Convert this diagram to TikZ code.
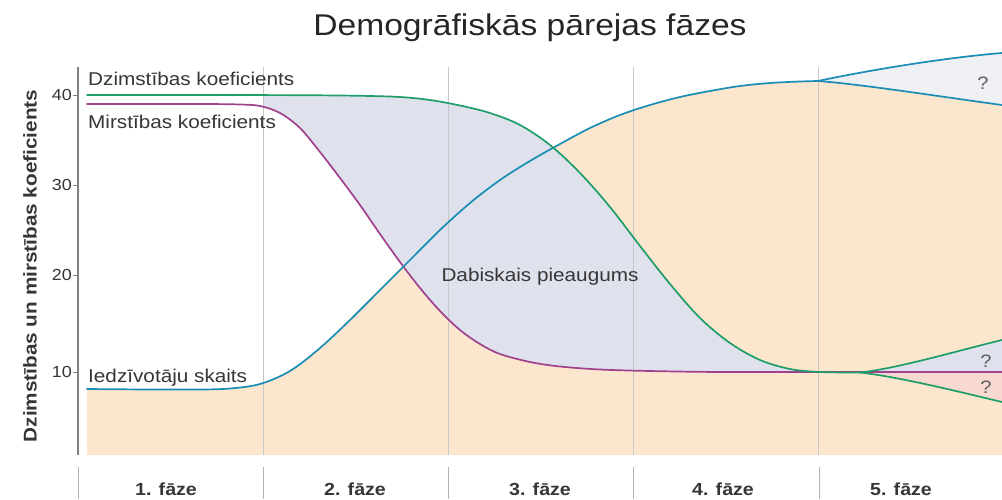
\documentclass[tikz,border=0pt]{standalone}
\usepackage{fontspec}
\setmainfont[FakeStretch=1.12]{Liberation Sans}
\definecolor{peach}{HTML}{FCE6CE}
\definecolor{lav}{HTML}{DFE2ED}
\definecolor{topgray}{HTML}{EEF0F3}
\definecolor{pinkf}{HTML}{F8D9CF}
\definecolor{gline}{HTML}{1F9E68}
\definecolor{tline}{HTML}{1A8DB5}
\definecolor{pline}{HTML}{A0418D}
\definecolor{txt}{HTML}{363636}
\definecolor{gridc}{HTML}{C8C8C8}
\definecolor{axisc}{HTML}{808080}
\tikzset{
  curve/.style={line width=1.7pt, line join=round, line cap=round},
  gridline/.style={draw=gridc, line width=0.8pt},
  lbl/.style={inner sep=0pt, text=txt, font=\fontsize{18.5}{20}\selectfont},
  ticklbl/.style={inner sep=0pt, text=txt, anchor=east, font=\fontsize{16}{18}\selectfont},
  phaselbl/.style={inner sep=0pt, text=txt, anchor=base, font=\bfseries\fontsize{17.5}{19}\selectfont},
  qlbl/.style={inner sep=0pt, text=txt!80, font=\fontsize{18}{20}\selectfont},
}
\def\birth{(87,95) (200,95) (300,95.2) (360,95.8) (400,97) (430,100) (460,105.5) (490,113) (520,125) (550,145) (580,173) (610,207) (640,246) (670,284) (700,318) (730,343) (760,360) (790,369) (820,372) (860,372.5)}
\def\death{(87,104) (200,104) (240,104.5) (260,106) (280,113) (300,128) (320,152) (340,178) (360,205) (380,234) (400,262) (420,288) (440,311) (460,330) (480,344) (500,354) (530,362) (560,366.5) (600,369.5) (650,371) (720,372) (818,372)}
\def\deathrev{(818,372) (720,372) (650,371) (600,369.5) (560,366.5) (530,362) (500,354) (480,344) (460,330) (440,311) (420,288) (400,262) (380,234) (360,205) (340,178) (320,152) (300,128) (280,113) (260,106) (240,104.5) (200,104) (87,104)}
\def\pop{(87,389) (150,389.5) (200,389.5) (230,388.5) (260,384) (290,371) (320,348) (350,320) (380,290) (410,260) (440,230) (470,203) (500,180) (530,161) (560,144) (590,128) (620,115) (650,105) (680,97) (710,91) (740,86) (770,83) (800,81.5) (818,81)}
\begin{document}
\begin{tikzpicture}[x=1pt,y=-1pt]
\useasboundingbox (0,0) rectangle (1002,499);
\fill[white] (0,0) rectangle (1002,499);
% peach under population
\fill[peach] (87,455) -- plot[smooth, tension=0.55] coordinates {\pop}
  .. controls (860,84) and (950,98) .. (1002,105) -- (1002,455) -- cycle;
% natural increase
\begin{scope}
\clip (263,0) rectangle (1002,499);
\fill[lav] plot[smooth, tension=0.55] coordinates {\birth}
  -- plot[smooth, tension=0.55] coordinates {\deathrev} -- cycle;
\end{scope}
\fill[lav] (860,372.5) .. controls (900,368) and (960,350) .. (1002,340) -- (1002,372) -- cycle;
\fill[pinkf] (860,372.5) .. controls (900,377) and (960,392) .. (1002,402) -- (1002,372) -- cycle;
\fill[topgray] (818,81) .. controls (860,72) and (940,58) .. (1002,53) -- (1002,105)
  .. controls (950,98) and (860,84) .. (818,81) -- cycle;
% grid lines
\foreach \gx/\nm in {263/ga,448/gb,633/gc,818/gd} {
  \coordinate (\nm t) at (\gx,67);
  \coordinate (\nm b) at (\gx,455);
  \draw[gridline] (\nm t) -- (\nm b);
}
% bottom separators
\foreach \sx/\nm in {78/sa,263/sb,448/sc,633/sd,819/se} {
  \coordinate (\nm t) at (\sx,467);
  \coordinate (\nm b) at (\sx,499);
  \draw[gridline, draw=gridc!90!black] (\nm t) -- (\nm b);
}
% axis
\coordinate (axt) at (78,67);
\coordinate (axb) at (78,455);
\draw[axisc, line width=1.5pt] (axt) -- (axb);
\foreach \ty/\tv in {95/40,185/30,275/20,372/10} {
  \coordinate (tk\tv) at (73,\ty);
  \coordinate (ta\tv) at (78,\ty);
  \draw[axisc, line width=1pt] (tk\tv) -- (ta\tv);
  \node[ticklbl] (tl\tv) at (72,\ty) {\tv};
}
% curves
\draw[curve, pline] plot[smooth, tension=0.55] coordinates {\death} -- (1002,372);
\draw[curve, tline] plot[smooth, tension=0.55] coordinates {\pop}
  .. controls (860,84) and (950,98) .. (1002,105);
\draw[curve, tline] (818,81) .. controls (860,72) and (940,58) .. (1002,53);
\draw[curve, gline] plot[smooth, tension=0.55] coordinates {\birth}
  .. controls (900,368) and (960,350) .. (1002,340);
\draw[curve, gline] (860,372.5) .. controls (900,377) and (960,392) .. (1002,402);
% labels
\node[inner sep=0pt, anchor=base, text=black!85, font=\fontsize{30}{32}\selectfont] (title) at (530,35) {Demogrāfiskās pārejas fāzes};
\node[lbl, anchor=base west] (lb) at (88,85) {Dzimstības koeficients};
\node[lbl, anchor=base west] (ld) at (88,128) {Mirstības koeficients};
\node[lbl, anchor=base west] (lp) at (88,382) {Iedzīvotāju skaits};
\node[lbl, anchor=base] (ln) at (540,281) {Dabiskais pieaugums};
\node[qlbl] (q1) at (983,83) {?};
\node[qlbl] (q2) at (986,361) {?};
\node[qlbl] (q3) at (986,387) {?};
\node[inner sep=0pt, text=txt, rotate=90, font=\bfseries\fontsize{18.5}{20}\selectfont] (ylab) at (30,266) {Dzimstības un mirstības koeficients};
\node[phaselbl] (p1) at (166,495) {1. fāze};
\node[phaselbl] (p2) at (355,495) {2. fāze};
\node[phaselbl] (p3) at (540,495) {3. fāze};
\node[phaselbl] (p4) at (723,495) {4. fāze};
\node[phaselbl] (p5) at (901,495) {5. fāze};
\end{tikzpicture}
\end{document}
